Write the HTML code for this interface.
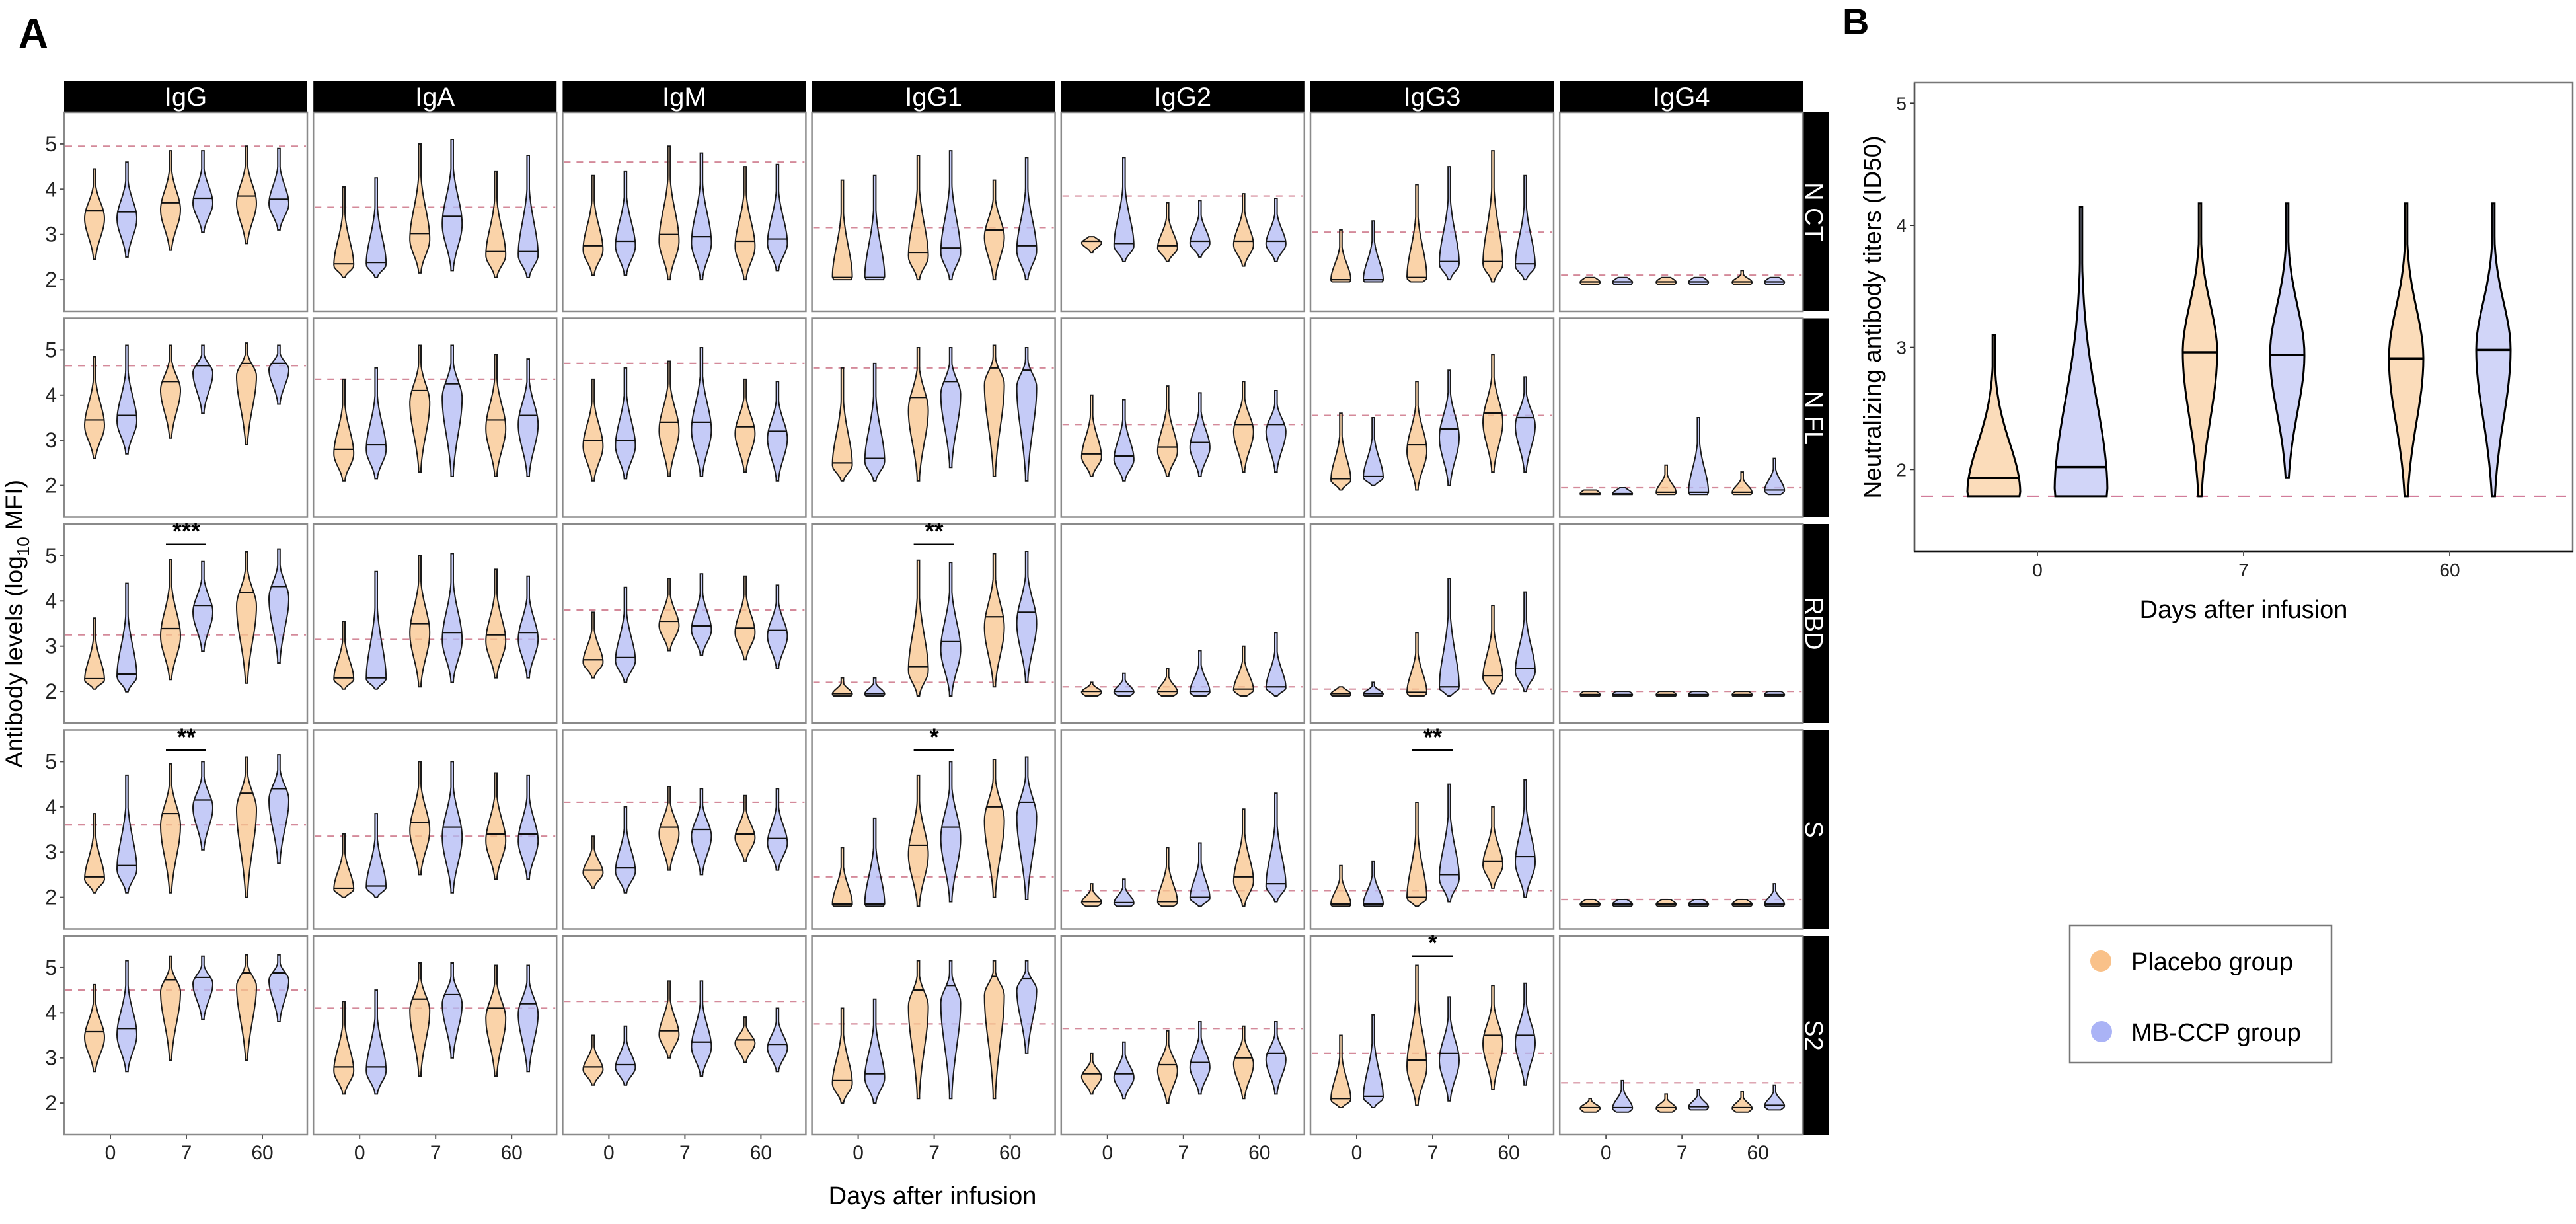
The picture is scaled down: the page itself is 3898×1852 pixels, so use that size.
<!DOCTYPE html>
<html><head><meta charset="utf-8"><style>
html,body{margin:0;padding:0;background:#fff;}
svg{display:block;font-family:"Liberation Sans",Arial,sans-serif;}
</style></head><body>
<svg id="fig" width="3898" height="1852" viewBox="0 0 3898 1852" xmlns="http://www.w3.org/2000/svg">
<text x="28" y="72" font-size="62" font-weight="bold">A</text>
<text x="2788" y="52" font-size="56" font-weight="bold">B</text>
<g id="gA"></g>
<g id="gB"></g>
<text transform="translate(34,944) rotate(-90)" text-anchor="middle" font-size="37">Antibody levels (log<tspan font-size="26" dy="10">10</tspan><tspan dy="-10"> MFI)</tspan></text>
<text x="1411" y="1822" text-anchor="middle" font-size="38">Days after infusion</text>
<text transform="translate(2846,480) rotate(-90)" text-anchor="middle" font-size="37">Neutralizing antibody titers (ID50)</text>
<text x="3395" y="935" text-anchor="middle" font-size="38">Days after infusion</text>
<g>
<rect x="3132" y="1400" width="396" height="208" fill="#fff" stroke="#777" stroke-width="2.5"/>
<circle cx="3179" cy="1454" r="16" fill="#f9c189"/>
<text x="3225" y="1468" font-size="38">Placebo group</text>
<circle cx="3180" cy="1561" r="16" fill="#aab3f6"/>
<text x="3225" y="1575" font-size="38">MB-CCP group</text>
</g>
</svg>
<script>
const isotypes=["IgG","IgA","IgM","IgG1","IgG2","IgG3","IgG4"];
const antigens=["N CT","N FL","RBD","S","S2"];
const days=["0","7","60"];
const yTicks=[2,3,4,5];
const refs=[
[4.95,3.6,4.6,3.15,3.85,3.05,2.1],
[4.65,4.35,4.7,4.6,3.35,3.55,1.95],
[3.25,3.15,3.8,2.2,2.1,2.05,2.0],
[3.6,3.35,4.1,2.45,2.15,2.15,1.95],
[4.5,4.1,4.25,3.75,3.65,3.1,2.45]];
// order per panel: P0,M0,P7,M7,P60,M60
const lo=[
[[2.45,2.5,2.65,3.05,2.8,3.1],[2.05,2.05,2.15,2.2,2.05,2.05],[2.1,2.1,2.0,2.0,2.0,2.2],[2.0,2.0,2.0,2.0,2.0,2.0],[2.6,2.4,2.4,2.5,2.3,2.4],[1.95,1.95,1.95,2.0,1.95,2.0],[1.9,1.9,1.9,1.9,1.9,1.9]],
[[2.6,2.7,3.05,3.6,2.9,3.8],[2.1,2.15,2.3,2.2,2.2,2.2],[2.1,2.15,2.2,2.2,2.3,2.1],[2.1,2.1,2.1,2.4,2.2,2.1],[2.2,2.1,2.2,2.2,2.3,2.3],[1.9,2.0,1.9,2.0,2.3,2.3],[1.8,1.8,1.8,1.8,1.8,1.8]],
[[2.05,1.99,2.26,2.89,2.18,2.63],[2.05,2.05,2.1,2.2,2.3,2.3],[2.3,2.2,2.9,2.8,2.7,2.5],[1.9,1.9,1.9,1.9,2.1,2.2],[1.9,1.9,1.9,1.9,1.9,1.9],[1.9,1.9,1.9,1.9,1.95,2.0],[1.9,1.9,1.9,1.9,1.9,1.9]],
[[2.1,2.1,2.1,3.05,2.0,2.75],[2.0,2.0,2.5,2.1,2.4,2.4],[2.2,2.1,2.6,2.5,2.8,2.6],[1.8,1.8,1.8,1.9,2.0,1.95],[1.8,1.8,1.8,1.8,1.8,1.9],[1.8,1.8,1.8,1.9,2.2,2.0],[1.8,1.8,1.8,1.8,1.8,1.8]],
[[2.7,2.7,2.95,3.85,2.95,3.8],[2.2,2.2,2.6,3.0,2.6,2.7],[2.4,2.4,3.0,2.6,2.9,2.7],[2.0,2.0,2.1,2.1,2.1,3.1],[2.2,2.1,2.0,2.2,2.1,2.2],[1.9,1.9,1.95,2.05,2.3,2.4],[1.8,1.8,1.8,1.85,1.8,1.85]]];
const med=[
[[3.52,3.5,3.7,3.8,3.85,3.78],[2.35,2.38,3.02,3.4,2.62,2.62],[2.75,2.85,3.0,2.95,2.85,2.9],[2.05,2.05,2.6,2.7,3.1,2.75],[2.85,2.8,2.75,2.85,2.85,2.85],[2.0,2.0,2.05,2.4,2.4,2.35],[1.95,1.95,1.95,1.95,1.95,1.95]],
[[3.45,3.55,4.3,4.65,4.7,4.7],[2.8,2.9,4.1,4.25,3.45,3.55],[3.0,3.0,3.4,3.4,3.3,3.2],[2.5,2.6,3.95,4.3,4.6,4.55],[2.7,2.65,2.85,2.95,3.35,3.35],[2.15,2.2,2.9,3.25,3.6,3.5],[1.82,1.82,1.85,1.85,1.85,1.9]],
[[2.28,2.38,3.39,3.9,4.19,4.32],[2.3,2.3,3.5,3.3,3.25,3.3],[2.7,2.75,3.55,3.45,3.4,3.35],[1.95,1.95,2.55,3.1,3.65,3.75],[2.0,2.0,2.0,2.0,2.05,2.1],[1.95,1.95,1.98,2.1,2.35,2.5],[1.93,1.93,1.93,1.93,1.93,1.93]],
[[2.45,2.7,3.85,4.15,4.3,4.4],[2.2,2.25,3.65,3.55,3.4,3.4],[2.6,2.65,3.55,3.5,3.4,3.3],[1.85,1.85,3.15,3.55,4.0,4.1],[1.9,1.88,1.9,2.0,2.45,2.3],[1.85,1.85,2.0,2.5,2.8,2.9],[1.85,1.85,1.85,1.85,1.85,1.85]],
[[3.58,3.65,4.73,4.78,4.88,4.88],[2.8,2.8,4.3,4.4,4.1,4.2],[2.8,2.85,3.6,3.35,3.4,3.3],[2.5,2.65,4.5,4.6,4.8,4.75],[2.65,2.65,2.85,2.9,3.0,3.1],[2.1,2.15,2.95,3.1,3.5,3.5],[1.9,1.9,1.9,1.92,1.9,1.95]]];
const hi=[
[[4.45,4.6,4.85,4.85,4.95,4.9],[4.05,4.25,5.0,5.1,4.4,4.75],[4.3,4.4,4.95,4.8,4.5,4.55],[4.2,4.3,4.75,4.85,4.2,4.7],[2.95,4.7,3.7,3.75,3.9,3.8],[3.1,3.3,4.1,4.5,4.85,4.3],[2.05,2.05,2.05,2.05,2.2,2.05]],
[[4.85,5.1,5.1,5.1,5.15,5.1],[4.35,4.6,5.1,5.1,4.9,4.8],[4.35,4.6,4.75,5.05,4.35,4.3],[4.6,4.7,5.05,5.05,5.1,5.05],[4.0,3.9,4.2,4.05,4.3,4.1],[3.6,3.5,4.3,4.55,4.9,4.4],[1.9,1.95,2.45,3.5,2.3,2.6]],
[[3.62,4.39,4.91,4.87,5.09,5.15],[3.55,4.65,5.0,5.05,4.7,4.55],[3.75,4.3,4.5,4.6,4.55,4.35],[2.3,2.3,4.9,4.85,5.05,5.1],[2.2,2.4,2.5,2.9,3.0,3.3],[2.1,2.2,3.3,4.5,3.9,4.2],[2.0,2.0,2.0,2.0,2.0,2.0]],
[[3.85,4.7,4.95,5.0,5.1,5.15],[3.4,3.85,5.0,5.0,4.75,4.7],[3.35,4.0,4.45,4.4,4.25,4.4],[3.1,3.75,4.7,5.0,5.05,5.1],[2.3,2.4,3.1,3.2,3.95,4.3],[2.7,2.8,4.1,4.5,4.0,4.6],[1.95,1.95,1.95,1.95,1.95,2.3]],
[[4.62,5.15,5.25,5.25,5.28,5.28],[4.25,4.5,5.1,5.1,5.05,5.05],[3.5,3.7,4.7,4.7,3.9,4.1],[4.1,4.3,5.15,5.15,5.15,5.15],[3.1,3.35,3.6,3.8,3.7,3.8],[3.5,3.95,5.05,4.35,4.6,4.65],[2.1,2.5,2.2,2.3,2.25,2.4]]];
const starRow=[2,2,3,3,3,4];
const starCol=[0,3,0,3,5,5];
const starLabel=["***","**","**","*","**","*"];
// Panel B
const bRef=1.78;
const bTicks=[2,3,4,5];
const bLo=[1.78,1.78,1.78,1.93,1.78,1.78];
const bMed=[1.93,2.02,2.96,2.94,2.91,2.98];
const bHi=[3.1,4.15,4.18,4.18,4.18,4.18];

const NS="http://www.w3.org/2000/svg";
function mk(tag,attrs,parent){const e=document.createElementNS(NS,tag);for(const k in attrs)e.setAttribute(k,attrs[k]);parent.appendChild(e);return e;}
const fills=["#f8c48c","#b2b9f4"];
const fillOp=0.75;

function violinPath(cx,yFn,l,m,h,W,mode){
  // half-width profile
  const pts=[];const n=36;
  const sB=Math.max(0.12,(mode-l)*0.65), sA=Math.max(0.12,(h-mode)*0.45);
  for(let i=0;i<=n;i++){const v=l+(h-l)*i/n;const s=v<mode?sB:sA;let w=W*Math.exp(-Math.pow((v-mode)/s,2));w=Math.max(w,1.8);pts.push([v,w]);}
  let d="";
  pts.forEach((p,i)=>{d+=(i?"L":"M")+(cx+p[1]).toFixed(1)+","+yFn(p[0]).toFixed(1);});
  for(let i=pts.length-1;i>=0;i--){const p=pts[i];d+="L"+(cx-p[1]).toFixed(1)+","+yFn(p[0]).toFixed(1);}
  return d+"Z";
}
function halfW(l,m,h,W,mode,v){const sB=Math.max(0.12,(mode-l)*0.65), sA=Math.max(0.12,(h-mode)*0.45);const s=v<mode?sB:sA;return Math.max(1.8,W*Math.exp(-Math.pow((v-mode)/s,2)));}

const gA=document.getElementById("gA");
const X0=97,PW=368,PITCH=377.2,TOP0=170,PH=301,RPITCH=311.5,VMAX=5.7,VMIN=1.3;
const yScale=PH/(VMAX-VMIN);
function colX(c){return X0+c*PITCH;}
function rowY(r){return TOP0+r*RPITCH;}
function xPos(c,di,g){return colX(c)+70+di*115+(g?25:-24);}

// column strips
isotypes.forEach((name,c)=>{
  const s=mk("rect",{x:colX(c),y:123,width:PW,height:47,fill:"#000"},gA);
  
  
  const t=mk("text",{x:colX(c)+PW/2,y:160,"text-anchor":"middle","font-size":40,fill:"#fff"},gA);
  t.textContent=name;
  
  
});
antigens.forEach((name,r)=>{
  const top=rowY(r);
  const s=mk("rect",{x:2725,y:top,width:42,height:PH,fill:"#000"},gA);
  
  
  const t=mk("text",{transform:`translate(2732,${top+PH/2}) rotate(90)`,"text-anchor":"middle","font-size":38,fill:"#fff"},gA);
  t.textContent=name;
  
  
});

for(let r=0;r<antigens.length;r++){
  const top=rowY(r);
  const yFn=v=>top+(VMAX-v)*yScale;
  for(let c=0;c<isotypes.length;c++){
    const x0=colX(c);
    const g=mk("g",{},gA);
    
    
    mk("rect",{x:x0,y:top,width:PW,height:PH,fill:"#fff",stroke:"#8a8a8a","stroke-width":2.5},g);
    const ref=mk("line",{x1:x0+2,x2:x0+PW-2,y1:yFn(refs[r][c]),y2:yFn(refs[r][c]),stroke:"#d48a9a","stroke-width":2.2,"stroke-dasharray":"10,9"},g);
    
    
    for(let k=0;k<6;k++){
      const di=Math.floor(k/2),grp=k%2;
      const l=lo[r][c][k],m=med[r][c][k],h=hi[r][c][k];
      const cx=xPos(c,di,grp);
      const mode=m-(m-l)*0.15;
      const p=mk("path",{d:violinPath(cx,yFn,l,m,h,15,mode),fill:fills[grp],"fill-opacity":fillOp,stroke:"#1a1a1a","stroke-width":2},g);
      
      
      const w=halfW(l,m,h,15,mode,m);
      const ml=mk("line",{x1:cx-w,x2:cx+w,y1:yFn(m),y2:yFn(m),stroke:"#111","stroke-width":2.2},g);
      
      
    }
    if(c===0){
      yTicks.forEach(v=>{
        mk("line",{x1:91,x2:97,y1:yFn(v),y2:yFn(v),stroke:"#555","stroke-width":2},gA);
        const t=mk("text",{x:86,y:yFn(v)+11,"text-anchor":"end","font-size":32,fill:"#222"},gA);
        t.textContent=v;
        
        
      });
    }
    if(r===antigens.length-1){
      days.forEach((d,di)=>{
        const tx=colX(c)+70+di*115;
        mk("line",{x1:tx,x2:tx,y1:top+PH,y2:top+PH+7,stroke:"#555","stroke-width":2},gA);
        const t=mk("text",{x:tx,y:top+PH+37,"text-anchor":"middle","font-size":30,fill:"#222"},gA);
        t.textContent=d;
        
        
      });
    }
  }
}
// significance
starRow.forEach((r,i)=>{
  const c=starCol[i];const top=rowY(r);const yFn=v=>top+(VMAX-v)*yScale;
  const cx=colX(c)+70+115;
  const ln=mk("line",{x1:cx-31,x2:cx+30,y1:yFn(5.25),y2:yFn(5.25),stroke:"#000","stroke-width":2.5},gA);
  
  
  const t=mk("text",{x:cx,y:yFn(5.25)-8,"text-anchor":"middle","font-size":36,"font-weight":"bold"},gA);
  t.textContent=starLabel[i];
  
  
});

// Panel B
const gB=document.getElementById("gB");
const BX0=2897,BX1=3893,BY0=125,BY1=834,BVMAX=5.17,BVMIN=1.33;
const bY=v=>BY0+(BVMAX-v)*(BY1-BY0)/(BVMAX-BVMIN);
const bX=(di,g)=>3083+di*312+(g?66:-66);
mk("rect",{x:BX0,y:BY0,width:BX1-BX0,height:BY1-BY0,fill:"#fff",stroke:"#777","stroke-width":2.5},gB);
mk("line",{x1:BX0,x2:BX0,y1:BY0,y2:BY1,stroke:"#555","stroke-width":2.5},gB);
mk("line",{x1:BX0,x2:BX1,y1:BY1,y2:BY1,stroke:"#111","stroke-width":2.5},gB);
const bref=mk("line",{x1:BX0+10,x2:BX1-10,y1:bY(bRef),y2:bY(bRef),stroke:"#cc6a8c","stroke-width":2,"stroke-dasharray":"18,14"},gB);


bTicks.forEach(v=>{
  mk("line",{x1:BX0-7,x2:BX0,y1:bY(v),y2:bY(v),stroke:"#333","stroke-width":2},gB);
  const t=mk("text",{x:BX0-12,y:bY(v)+10,"text-anchor":"end","font-size":28,fill:"#222"},gB);
  t.textContent=v;
  
  
});
days.forEach((d,di)=>{
  const tx=3083+di*312;
  mk("line",{x1:tx,x2:tx,y1:BY1,y2:BY1+8,stroke:"#555","stroke-width":2},gB);
  const t=mk("text",{x:tx,y:BY1+38,"text-anchor":"middle","font-size":28,fill:"#222"},gB);
  t.textContent=d;
  
  
});
for(let k=0;k<6;k++){
  const di=Math.floor(k/2),grp=k%2;
  const l=bLo[k],m=bMed[k],h=bHi[k];
  const cx=bX(di,grp);
  const mode=(k<2)?l+0.02:m;
  const W=(k<2)?40:26;
  const p=mk("path",{d:violinPath(cx,bY,l,m,h,W,mode),fill:fills[grp],"fill-opacity":0.6,stroke:"#000","stroke-width":3},gB);
  
  
  const w=halfW(l,m,h,W,mode,m);
  const ml=mk("line",{x1:cx-w,x2:cx+w,y1:bY(m),y2:bY(m),stroke:"#000","stroke-width":3.5},gB);
  
  
}
</script>
</body></html>
